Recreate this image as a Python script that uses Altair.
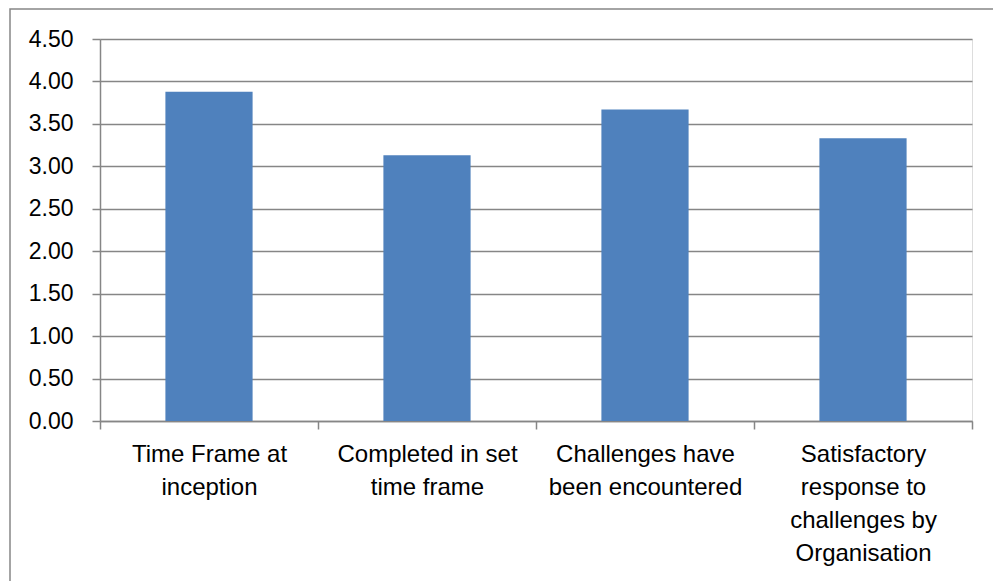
import altair as alt
import pandas as pd

categories = [
    ["Time Frame at", "inception"],
    ["Completed in set", "time frame"],
    ["Challenges have", "been encountered"],
    ["Satisfactory", "response to", "challenges by", "Organisation"],
]
keys = ["c1", "c2", "c3", "c4"]
values = [3.88, 3.13, 3.67, 3.33]
y_ticks = [0, 0.5, 1, 1.5, 2, 2.5, 3, 3.5, 4, 4.5]

df = pd.DataFrame({"key": keys, "value": values})

def js_list(lines):
    return "[" + ", ".join("'" + s + "'" for s in lines) + "]"

label_expr = " : ".join(
    f"datum.value == '{k}' ? {js_list(c)}" for k, c in zip(keys, categories)
) + " : ''"

FONT = "Liberation Sans"
GRID = "#868686"

bars = alt.Chart(df).mark_bar(
    color="#4F81BD", width=alt.RelativeBandSize(0.4)
).encode(
    x=alt.X(
        "key:N",
        sort=keys,
        scale=alt.Scale(paddingInner=0, paddingOuter=0),
        axis=alt.Axis(
            title=None,
            labelAngle=0,
            labelExpr=label_expr,
            labelFont=FONT,
            labelFontSize=24,
            labelColor="#000000",
            labelLineHeight=33,
            labelPadding=13,
            labelBaseline="top",
            labelLimit=400,
            tickBand="extent",
            tickSize=8,
            tickColor=GRID,
            domainColor=GRID,
            domainWidth=1.5,
            tickWidth=1.5,
            grid=False,
        ),
    ),
    y=alt.Y(
        "value:Q",
        scale=alt.Scale(domain=[0, 4.5], nice=False),
        axis=alt.Axis(
            title=None,
            values=y_ticks,
            format=".2f",
            labelFont=FONT,
            labelFontSize=23,
            labelColor="#000000",
            labelPadding=19,
            tickSize=8,
            tickColor=GRID,
            tickWidth=1.5,
            domainColor=GRID,
            domainWidth=1.5,
            gridColor=GRID,
            gridWidth=1.5,
        ),
    ),
)

border = alt.Chart(pd.DataFrame({"a": [0]})).mark_rect(
    fill=None, stroke="#868686", strokeWidth=1.5, clip=False
).encode(
    x=alt.value(-90), x2=alt.value(1000), y=alt.value(-30), y2=alt.value(600)
)

chart = alt.layer(border, bars).properties(
    width=872,
    height=382,
    padding={"left": 100, "top": 39, "right": 21, "bottom": 160},
    autosize=alt.AutoSizeParams(type="none"),
).configure_view(stroke=None).configure(background="white")

chart.save("out.html", embed_options={"renderer": "svg", "actions": False})
